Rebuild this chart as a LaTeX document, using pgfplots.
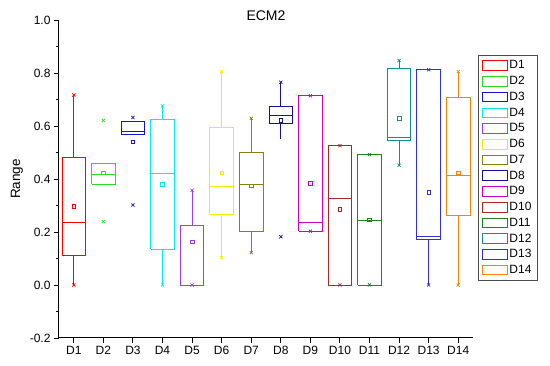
\documentclass[border=0pt]{standalone}
\usepackage{pgfplots}
\pgfplotsset{compat=1.18}
\usepackage{fontspec}
\setmainfont{Liberation Sans}
\definecolor{c1}{RGB}{255,0,0}
\definecolor{c2}{RGB}{40,220,40}
\definecolor{c3}{RGB}{20,20,210}
\definecolor{c4}{RGB}{0,235,240}
\definecolor{c5}{RGB}{155,60,250}
\definecolor{c6}{RGB}{240,240,0}
\definecolor{c7}{RGB}{130,130,20}
\definecolor{c8}{RGB}{20,20,150}
\definecolor{c9}{RGB}{200,0,200}
\definecolor{c10}{RGB}{170,40,40}
\definecolor{c11}{RGB}{30,130,30}
\definecolor{c12}{RGB}{20,140,140}
\definecolor{c13}{RGB}{50,50,210}
\definecolor{c14}{RGB}{245,135,0}
% color, position, lower whisker, lower quartile, median, upper quartile, upper whisker, mean
\newcommand{\bx}[8]{%
 \pgfmathsetmacro\xl{#2-0.4}\pgfmathsetmacro\xr{#2+0.4}%
 \addplot[draw=#1, line width=0.8pt, line join=miter,
   legend image code/.code={\draw[draw=#1,line width=0.8pt] (0pt,-4.8pt) rectangle (25pt,4.8pt);}]
   coordinates {(\xl,#4)(\xr,#4)(\xr,#6)(\xl,#6)(\xl,#4)};
 \addlegendentry{D#2}
 \addplot[forget plot, draw=#1, line width=0.8pt] coordinates {(\xl,#5)(\xr,#5)};
 \addplot[forget plot, draw=#1, line width=0.8pt] coordinates {(#2,#6)(#2,#7)};
 \addplot[forget plot, draw=#1, line width=0.8pt] coordinates {(#2,#3)(#2,#4)};
 \addplot[forget plot, only marks, mark=square, mark size=1.8pt, draw=#1, mark options={line width=0.5pt}] coordinates {(#2,#8)};
}
\newcommand{\xm}[4]{%
 \addplot[forget plot, only marks, mark=x, mark size=2.2pt, draw=#1, mark options={line width=0.7pt}] coordinates {(#2,#3) (#2,#4)};
}
\begin{document}
\begin{tikzpicture}
\begin{axis}[
  scale only axis, width=414pt, height=318pt,
  xmin=0.5, xmax=14.5, ymin=-0.2, ymax=1.0,
  axis lines*=left,
  axis line style={line width=1pt},
  tick align=outside,
  xtick={1,...,14},
  xticklabels={D1,D2,D3,D4,D5,D6,D7,D8,D9,D10,D11,D12,D13,D14},
  ytick={-0.2,0,0.2,0.4,0.6,0.8,1.0},
  minor y tick num=1,
  major tick length=5pt, minor tick length=3pt,
  tick style={line width=0.9pt, black},
  tick label style={font=\fontsize{12}{14}\selectfont},
  /pgf/number format/assume math mode=true,
  yticklabel style={/pgf/number format/fixed, /pgf/number format/precision=1, /pgf/number format/fixed zerofill},
  ylabel={Range}, ylabel style={font=\fontsize{13.5}{15}\selectfont},
  title={ECM2}, title style={font=\fontsize{14}{16}\selectfont, yshift=-10pt},
  legend style={at={(1.012,0.89)}, anchor=north west, draw=black!70, font=\fontsize{12}{14}\selectfont, row sep=1.9pt, inner sep=3.5pt},
  legend cell align=left,
]
\bx{c1}{1}{0}{0.112}{0.235}{0.482}{0.717}{0.297}
\bx{c2}{2}{0.380}{0.380}{0.419}{0.459}{0.459}{0.424}
\bx{c3}{3}{0.570}{0.570}{0.581}{0.617}{0.617}{0.541}
\bx{c4}{4}{0}{0.136}{0.422}{0.626}{0.676}{0.380}
\bx{c5}{5}{0}{0}{0}{0.226}{0.357}{0.163}
\bx{c6}{6}{0.103}{0.266}{0.373}{0.596}{0.805}{0.423}
\bx{c7}{7}{0.122}{0.202}{0.380}{0.501}{0.629}{0.375}
\bx{c8}{8}{0.551}{0.611}{0.641}{0.674}{0.765}{0.621}
\bx{c9}{9}{0.203}{0.203}{0.235}{0.714}{0.714}{0.384}
\bx{c10}{10}{0}{0}{0.325}{0.526}{0.526}{0.285}
\bx{c11}{11}{0}{0}{0.242}{0.492}{0.492}{0.246}
\bx{c12}{12}{0.452}{0.546}{0.556}{0.816}{0.847}{0.629}
\bx{c13}{13}{0}{0.171}{0.183}{0.812}{0.812}{0.349}
\bx{c14}{14}{0}{0.261}{0.415}{0.708}{0.805}{0.423}
\xm{c1}{1}{0.717}{0}
\xm{c2}{2}{0.621}{0.240}
\xm{c3}{3}{0.632}{0.302}
\xm{c4}{4}{0.676}{0}
\xm{c5}{5}{0.357}{0}
\xm{c6}{6}{0.805}{0.103}
\xm{c7}{7}{0.629}{0.122}
\xm{c8}{8}{0.765}{0.182}
\xm{c9}{9}{0.714}{0.203}
\xm{c10}{10}{0.526}{0}
\xm{c11}{11}{0.492}{0}
\xm{c12}{12}{0.847}{0.452}
\xm{c13}{13}{0.812}{0}
\xm{c14}{14}{0.805}{0}
\end{axis}
\path (current axis.south west) ++(-59pt,-28pt) coordinate (bbA);
\path (current axis.south west) ++(491pt,338pt) coordinate (bbB);
\path (bbA) rectangle (bbB);
\end{tikzpicture}
\end{document}
